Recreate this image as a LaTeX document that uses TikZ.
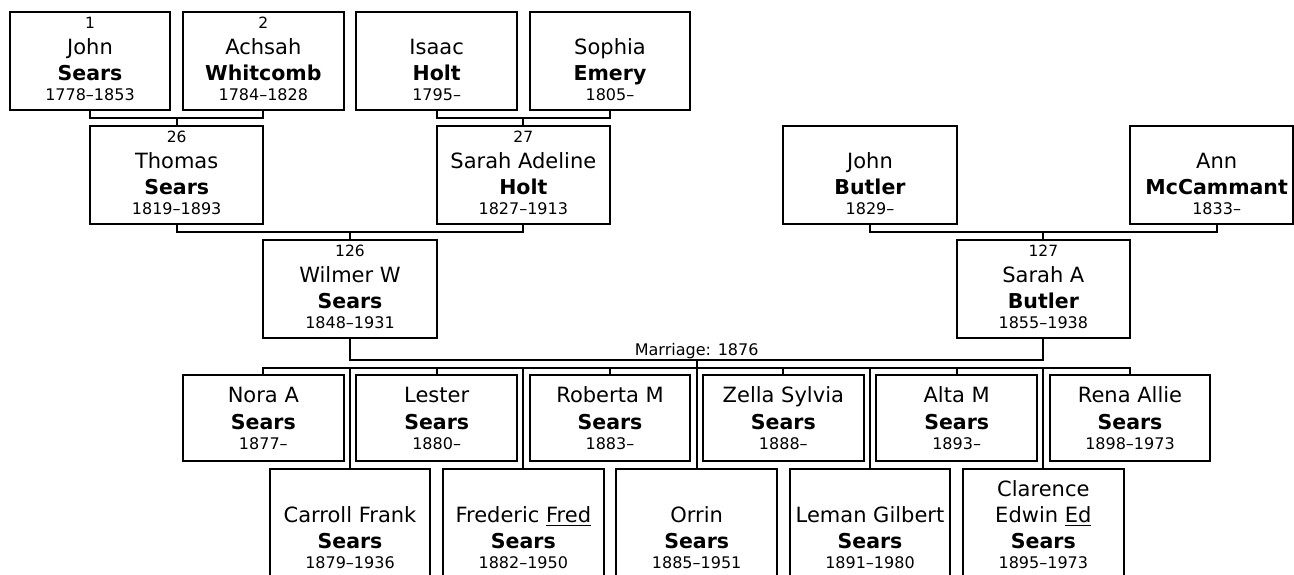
\documentclass[tikz,border=0pt]{standalone}
\usepackage{fontspec}
\setmainfont{DejaVu Sans}
\tikzset{
  pbox/.style={draw, rectangle, line width=2pt, inner sep=0pt, outer sep=0pt},
  conn/.style={draw, line width=2pt, line join=miter},
  txt/.style={anchor=base, inner sep=0pt, outer sep=0pt},
  fname/.style={txt, font=\fontsize{21}{25}\selectfont},
  sname/.style={txt, font=\fontsize{20.5}{25}\selectfont\bfseries},
  small/.style={txt, font=\fontsize{16}{19}\selectfont},
  numtxt/.style={txt, font=\fontsize{15.5}{19}\selectfont},
}
\newcommand\ulword[1]{\setbox0=\hbox{#1}\rlap{\rule[-3.5pt]{\wd0}{1.5pt}}\box0}
% generation boxes with a number line
\newcommand\personA[8]{%
  \node[pbox, minimum width=#4pt, minimum height=98pt, anchor=north] (#1) at (#2,#3) {};
  \node[numtxt] (#1-n) at ([yshift=-16pt]#1.north) {#5};
  \node[fname] (#1-f) at ([yshift=-42pt]#1.north) {#6};
  \node[sname] (#1-s) at ([yshift=-68pt]#1.north) {#7};
  \node[small] (#1-d) at ([yshift=-88pt]#1.north) {#8};}
% generation boxes without a number
\newcommand\personB[7]{%
  \node[pbox, minimum width=#4pt, minimum height=98pt, anchor=north] (#1) at (#2,#3) {};
  \node[fname] (#1-f) at ([yshift=-42pt]#1.north) {#5};
  \node[sname] (#1-s) at ([yshift=-68pt]#1.north) {#6};
  \node[small] (#1-d) at ([yshift=-88pt]#1.north) {#7};}
% children, first row
\newcommand\kidA[5]{%
  \node[pbox, minimum width=160.67pt, minimum height=86pt, anchor=north] (#1) at (#2,374.5) {};
  \node[fname] (#1-f) at ([yshift=-28pt]#1.north) {#3};
  \node[sname] (#1-s) at ([yshift=-55pt]#1.north) {#4};
  \node[small] (#1-d) at ([yshift=-75pt]#1.north) {#5};}
% children, second row
\newcommand\kidB[5]{%
  \node[pbox, minimum width=160.67pt, minimum height=112pt, anchor=north] (#1) at (#2,468.5) {};
  \node[fname] (#1-f) at ([yshift=-54pt]#1.north) {#3};
  \node[sname] (#1-s) at ([yshift=-80pt]#1.north) {#4};
  \node[small] (#1-d) at ([yshift=-100pt]#1.north) {#5};}
\begin{document}
\begin{tikzpicture}[x=1pt,y=-1pt]
\useasboundingbox (0,0) rectangle (1294,574);
\fill[white] (0,0) rectangle (1294,574);
\clip (0,0) rectangle (1294,574);

% great-grandparents
\personA{p1}{90}{12}{160.67}{1}{John}{Sears}{1778–1853}
\personA{p2}{263.33}{12}{160.67}{2}{Achsah}{Whitcomb}{1784–1828}
\personB{p3}{436.67}{12}{160.67}{Isaac}{Holt}{1795–}
\personB{p4}{610}{12}{160.67}{Sophia}{Emery}{1805–}

% grandparents
\personA{p26}{176.67}{126}{173.33}{26}{Thomas}{Sears}{1819–1893}
\personA{p27}{523.33}{126}{173.33}{27}{Sarah Adeline}{Holt}{1827–1913}
\personB{jb}{870}{126}{173.33}{John}{Butler}{1829–}
\node[pbox, minimum width=162.6pt, minimum height=98pt, anchor=north west] (ann) at (1130,126) {};
\node[fname] (ann-f) at (1216.67,168) {Ann};
\node[sname] (ann-s) at (1216.67,194) {McCammant};
\node[small] (ann-d) at (1216.67,214) {1833–};

% parents
\personA{p126}{350}{240}{173.33}{126}{Wilmer W}{Sears}{1848–1931}
\personA{p127}{1043.33}{240}{173.33}{127}{Sarah A}{Butler}{1855–1938}

% children
\kidA{c1}{263.33}{Nora A}{Sears}{1877–}
\kidB{c2}{350}{Carroll Frank}{Sears}{1879–1936}
\kidA{c3}{436.67}{Lester}{Sears}{1880–}
\kidB{c4}{523.33}{Frederic \ulword{Fred}}{Sears}{1882–1950}
\kidA{c5}{610}{Roberta M}{Sears}{1883–}
\kidB{c6}{696.67}{Orrin}{Sears}{1885–1951}
\kidA{c7}{783.33}{Zella Sylvia}{Sears}{1888–}
\kidB{c8}{870}{Leman Gilbert}{Sears}{1891–1980}
\kidA{c9}{956.67}{Alta M}{Sears}{1893–}
\kidB{c10}{1043.33}{Edwin \ulword{Ed}}{Sears}{1895–1973}
\node[fname] (c10-g) at ([yshift=-28pt]c10.north) {Clarence};
\kidA{c11}{1130}{Rena Allie}{Sears}{1898–1973}

% connectors
\coordinate (m1) at (176.67,118);
\draw[conn] (p1.south) |- (m1) -| (p2.south);
\draw[conn] (m1) -- (p26.north);
\coordinate (m2) at (523.33,118);
\draw[conn] (p3.south) |- (m2) -| (p4.south);
\draw[conn] (m2) -- (p27.north);
\coordinate (m3) at (350,232);
\draw[conn] (p26.south) |- (m3) -| (p27.south);
\draw[conn] (m3) -- (p126.north);
\coordinate (annb) at (ann.south -| ann-s);
\coordinate (m4) at (1043.33,232);
\draw[conn] (jb.south) |- (m4) -| (annb);
\draw[conn] (m4) -- (p127.north);
\coordinate (mar) at (696.67,360);
\draw[conn] (p126.south) |- (mar) -| (p127.south);
\node[small] (marl) at (696.67,355) {Marriage: 1876};
\coordinate (kids) at (696.67,368);
\draw[conn] (c1.north) |- (kids) -| (c11.north);
\draw[conn] (mar) -- (c6.north);
\foreach \c in {c2,c3,c4,c5,c7,c8,c9,c10}
  \draw[conn] (kids -| \c.north) -- (\c.north);
\end{tikzpicture}
\end{document}
